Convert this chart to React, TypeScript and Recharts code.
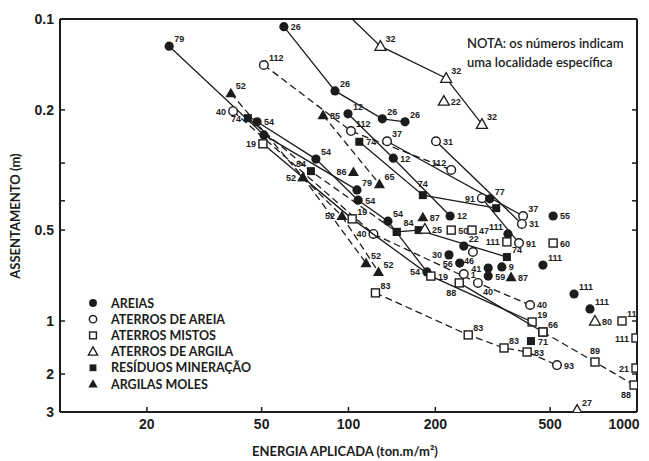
import React from "react";
import { ScatterChart, Scatter, XAxis, YAxis, Legend } from "recharts";

type Pt = [number, number, string | null];

const energyTicks = [20, 50, 100, 200, 500, 1000];
const settlementTicks = [0.1, 0.2, 0.3, 0.4, 0.5, 1, 2, 3];
const settlementTickLabels = ["0.1", "0.2", "", "", "0.5", "1", "2", "3"];

const categories = [
  "AREIAS",
  "ATERROS DE AREIA",
  "ATERROS MISTOS",
  "ATERROS DE ARGILA",
  "RESÍDUOS MINERAÇÃO",
  "ARGILAS MOLES",
];
const kinds = ["areia", "aterroAreia", "misto", "argila", "residuo", "argilaMole"];

// series ligadas por linha: [energia, assentamento, localidade]
const areias26: Pt[] = [[59.7, 0.106, "26"], [89.8, 0.173, "26"], [131, 0.214, "26"], [157, 0.219, "26"]];
const areias79: Pt[] = [[23.9, 0.123, "79"], [50.9, 0.242, ""], [107, 0.368, "79"]];
const areias54: Pt[] = [[48.2, 0.219, "54"], [77.1, 0.291, "54"], [108, 0.398, "54"], [137, 0.467, "54"], [187, 0.688, "54"]];
const areias12: Pt[] = [[99.6, 0.206, "12"], [143, 0.289, "12"], [225, 0.449, "12"]];
const aterroAreia112: Pt[] = [[50.9, 0.142, "112"], [102, 0.235, "112"], [227, 0.316, "112"]];
const aterroAreia40: Pt[] = [[39.8, 0.202, "40"], [122, 0.515, "40"], [281, 0.748, "40"], [426, 0.885, "40"]];
const aterroAreia37: Pt[] = [[136, 0.254, "37"], [403, 0.449, "37"]];
const aterroAreia31: Pt[] = [[201, 0.254, "31"], [399, 0.477, "31"]];
const aterroAreia91: Pt[] = [[290, 0.392, "91"], [390, 0.552, "91"]];
const mistos19: Pt[] = [[50.5, 0.259, "19"], [103, 0.459, "19"], [193, 0.71, "19"], [433, 1.013, "19"]];
const mistos88: Pt[] = [[242, 0.748, "88"], [472, 1.155, ""]];
const mistos66: Pt[] = [[472, 1.155, "66"], [715, 1.71, "89"], [977, 2.25, "88"]];
const mistos83: Pt[] = [[124, 0.807, "83"], [260, 1.2, "83"], [346, 1.423, "83"], [416, 1.5, "83"], [528, 1.78, null]];
const argila32: Pt[] = [[103, 0.1, null], [129, 0.123, "32"], [218, 0.157, "32"], [290, 0.223, "32"]];
const residuos74: Pt[] = [[109, 0.255, "74"], [181, 0.383, "74"], [325, 0.423, ""]];
const residuos74b: Pt[] = [[44.8, 0.213, "74"], [74.1, 0.319, "84"], [147, 0.507, ""]];
const residuos84: Pt[] = [[147, 0.507, ""], [175, 0.5, "84"], [354, 0.614, "74"]];
const argilaMole85: Pt[] = [[81.6, 0.208, "85"], [128, 0.352, "65"]];
const argilaMole52a: Pt[] = [[39.1, 0.176, "52"], [69.5, 0.334, "52"], [115, 0.643, "52"]];
const argilaMole52b: Pt[] = [[69.5, 0.334, ""], [94.9, 0.449, "52"], [127, 0.688, "52"]];

// pontos isolados
const areiasAvulsas: Pt[] = [
  [309, 0.394, "77"], [512, 0.449, "55"], [357, 0.515, "111"], [251, 0.565, "22"],
  [223, 0.604, "30"], [243, 0.643, "56"], [472, 0.653, "111"], [305, 0.668, "41"],
  [340, 0.662, "9"], [305, 0.71, "59"], [605, 0.814, "111"], [687, 0.912, "111"],
];
const aterroAreiaAvulsos: Pt[] = [[251, 0.699, "1"], [270, 0.591, "46"], [528, 1.78, "93"]];
const mistosAvulsos: Pt[] = [
  [227, 0.5, "50"], [268, 0.5, "47"], [354, 0.547, "111"], [512, 0.552, "60"],
  [887, 1.0, "111"], [992, 1.249, "111"], [992, 1.85, "21"],
];
const argilaAvulsos: Pt[] = [[214, 0.187, "22"], [184, 0.496, "25"], [715, 1.0, "80"], [620, 2.94, "27"]];
const residuosAvulsos: Pt[] = [[429, 1.3, "71"]];
const argilaMoleAvulsos: Pt[] = [[104, 0.321, "86"], [181, 0.453, "87"], [366, 0.715, "87"]];

// the vertical axis of the original is log up to 1, then squeezed
const LOG2 = Math.log10(2);
const LOG15 = Math.log10(1.5);
function toAxis(v: number) {
  if (v <= 1) return Math.log10(v);
  if (v <= 2) return (Math.log10(v) / LOG2) * (53 / 302);
  return 53 / 302 + (Math.log10(v / 2) / LOG15) * (38 / 302);
}

const series = [
  { data: areias26, kind: "areia", dash: false, place: ["r", "tr", "tr", "tr"] },
  { data: areias79, kind: "areia", dash: false, place: ["tr", "tr", "tr"] },
  { data: areias54, kind: "areia", dash: false, place: ["r", "tr", "r", "tr", "l"] },
  { data: areias12, kind: "areia", dash: false, place: ["tr", "r", "r"] },
  { data: aterroAreia112, kind: "aterroAreia", dash: true, place: ["tr", "tr", "tl"] },
  { data: aterroAreia40, kind: "aterroAreia", dash: true, place: ["l", "l", "br", "r"] },
  { data: aterroAreia37, kind: "aterroAreia", dash: false, place: ["tr", "tr"] },
  { data: aterroAreia31, kind: "aterroAreia", dash: false, place: ["r", "r"] },
  { data: aterroAreia91, kind: "aterroAreia", dash: false, place: ["l", "r"] },
  { data: mistos19, kind: "misto", dash: false, place: ["l", "tr", "r", "tr"] },
  { data: mistos88, kind: "misto", dash: false, place: ["bl", "tr"] },
  { data: mistos66, kind: "misto", dash: true, place: ["tr", "t", "bl"] },
  { data: mistos83, kind: "misto", dash: true, place: ["tr", "tr", "tr", "r", "r"] },
  { data: argila32, kind: "argila", dash: false, place: ["tr", "tr", "tr", "tr"] },
  { data: residuos74, kind: "residuo", dash: false, place: ["r", "t", "tr"] },
  { data: residuos74b, kind: "residuo", dash: true, place: ["l", "tl", "tr"] },
  { data: residuos84, kind: "residuo", dash: false, place: ["tr", "tl", "tr"] },
  { data: argilaMole85, kind: "argilaMole", dash: true, place: ["r", "tr"] },
  { data: argilaMole52a, kind: "argilaMole", dash: true, place: ["tr", "l", "tr"] },
  { data: argilaMole52b, kind: "argilaMole", dash: true, place: ["tr", "l", "tr"] },
  { data: areiasAvulsas, kind: "areia", dash: null, place: ["tr", "r", "tl", "tr", "l", "l", "tr", "l", "r", "r", "tr", "tr"] },
  { data: aterroAreiaAvulsos, kind: "aterroAreia", dash: null, place: ["r", "b", "r"] },
  { data: mistosAvulsos, kind: "misto", dash: null, place: ["r", "r", "l", "r", "tr", "l", "l"] },
  { data: argilaAvulsos, kind: "argila", dash: null, place: ["r", "r", "r", "tr"] },
  { data: residuosAvulsos, kind: "residuo", dash: null, place: ["r"] },
  { data: argilaMoleAvulsos, kind: "argilaMole", dash: null, place: ["l", "r", "r"] },
];

const INK = "#1c1c1c";

const labelOffset: Record<string, [number, number, string]> = {
  tr: [5, -4, "start"],
  r: [7, 3.5, "start"],
  l: [-7, 3.5, "end"],
  tl: [-5, -4, "end"],
  t: [0, -8, "middle"],
  b: [-4, 12, "middle"],
  br: [5, 12, "start"],
  bl: [-3, 13, "end"],
};

function Marker({ kind, cx, cy, small }: { kind: string; cx: number; cy: number; small?: boolean }) {
  const k = small ? 0.85 : 1;
  const r = 4.3 * k;
  const h = 4 * k;
  const t = 5.5 * k;
  const tri = `M${cx},${cy - t} L${cx + t},${cy + t * 0.75} L${cx - t},${cy + t * 0.75} Z`;
  switch (kind) {
    case "areia":
      return <circle cx={cx} cy={cy} r={r + 0.3} fill={INK} />;
    case "aterroAreia":
      return <circle cx={cx} cy={cy} r={r} fill="#fff" stroke={INK} strokeWidth={1.4} />;
    case "misto":
      return <rect x={cx - h} y={cy - h} width={h * 2} height={h * 2} fill="#fff" stroke={INK} strokeWidth={1.4} />;
    case "argila":
      return <path d={tri} fill="#fff" stroke={INK} strokeWidth={1.3} />;
    case "residuo":
      return <rect x={cx - h} y={cy - h} width={h * 2} height={h * 2} fill={INK} />;
    default:
      return <path d={tri} fill={INK} />;
  }
}

function renderPoint(kind: string) {
  return (props: any) => {
    const { cx, cy, payload } = props;
    if (payload.label === null || cx == null) return <g />;
    const [dx, dy, anchor] = labelOffset[payload.place] || labelOffset.tr;
    return (
      <g>
        <Marker kind={kind} cx={cx} cy={cy} />
        {payload.label && (
          <text
            x={cx + dx}
            y={cy + dy}
            textAnchor={anchor as any}
            fontSize={9}
            fontWeight={700}
            fontFamily="Liberation Sans, Arial, sans-serif"
            fill={INK}
          >
            {payload.label}
          </text>
        )}
      </g>
    );
  };
}

const renderLegend = () => (
  <svg width={190} height={100}>
    {categories.map((c, i) => (
      <g key={c}>
        <Marker kind={kinds[i]} cx={9} cy={8 + i * 16.2} small />
        <text x={27} y={12.5 + i * 16.2} fontSize={12.5} fontWeight={700} fontFamily="Lato, sans-serif" fill={INK}>
          {c}
        </text>
      </g>
    ))}
  </svg>
);

const tickFont = { fill: INK, fontSize: 14, fontWeight: 700, fontFamily: "Liberation Sans, Arial, sans-serif" };
const axisLine = { stroke: INK, strokeWidth: 2 };
const tickLine = { stroke: INK, strokeWidth: 1.5 };
const yDomain = [toAxis(0.1), toAxis(3)];
const yTicks = settlementTicks.map(toAxis);

const EnergyTick = (p: any) => {
  const last = p.payload.value === 1000;
  return (
    <text x={last ? p.x - 9 : p.x} y={p.y} dy="0.71em" textAnchor="middle" {...tickFont}>
      {p.payload.value}
    </text>
  );
};

export default function App() {
  return (
    <div style={{ position: "absolute", left: 0, top: 0, width: 649, height: 461, background: "#fff" }}>
      <ScatterChart width={649} height={461} margin={{ top: 18, right: 11, bottom: 0, left: 0 }}>
        <XAxis
          xAxisId="b"
          dataKey="x"
          type="number"
          scale="log"
          domain={[10, 1000]}
          allowDataOverflow
          ticks={energyTicks}
          height={49}
          axisLine={axisLine}
          tickLine={tickLine}
          tickSize={-5}
          tickMargin={12}
          tick={EnergyTick}
          label={{
            content: () => (
              <text x={345} y={456} textAnchor="middle" fontSize={13} fontWeight={700} fontFamily="Lato, sans-serif" fill={INK}>
                ENERGIA APLICADA (ton.m/m²)
              </text>
            ),
          }}
        />
        <XAxis
          xAxisId="t"
          orientation="top"
          type="number"
          scale="log"
          domain={[10, 1000]}
          allowDataOverflow
          ticks={energyTicks.slice(0, 5)}
          height={1}
          axisLine={axisLine}
          tickLine={tickLine}
          tickSize={-5}
          tickFormatter={() => ""}
        />
        <YAxis
          yAxisId="l"
          dataKey="y"
          type="number"
          domain={yDomain}
          allowDataOverflow
          reversed
          ticks={yTicks}
          width={60}
          axisLine={axisLine}
          tickLine={tickLine}
          tickSize={-5}
          tickMargin={11}
          tick={tickFont}
          tickFormatter={(_v: number, i: number) => settlementTickLabels[i]}
          label={{
            content: () => (
              <text
                x={17}
                y={216}
                transform="rotate(-90 17 216)"
                textAnchor="middle"
                dominantBaseline="middle"
                fontSize={13}
                fontWeight={700}
                fontFamily="Lato, sans-serif"
                fill={INK}
              >
                ASSENTAMENTO (m)
              </text>
            ),
          }}
        />
        <YAxis
          yAxisId="r"
          orientation="right"
          type="number"
          domain={yDomain}
          allowDataOverflow
          reversed
          ticks={yTicks}
          width={1}
          axisLine={axisLine}
          tickLine={tickLine}
          tickSize={-5}
          tickFormatter={() => ""}
        />
        <Legend
          layout="vertical"
          align="center"
          verticalAlign="middle"
          content={renderLegend}
          wrapperStyle={{ left: 84, top: 295, width: 190 }}
        />
        {series.map((s, si) => (
          <Scatter
            key={si}
            xAxisId="b"
            yAxisId="l"
            data={s.data.map(([x, y, label], i) => ({ x, y: toAxis(y), label, place: s.place[i] }))}
            shape={renderPoint(s.kind)}
            line={
              s.dash === null
                ? false
                : { stroke: INK, strokeWidth: 1.3, strokeDasharray: s.dash ? "7 4" : undefined }
            }
            lineJointType="linear"
            isAnimationActive={false}
          />
        ))}
      </ScatterChart>
      <div
        style={{
          position: "absolute",
          left: 467,
          top: 34,
          fontFamily: "Lato, sans-serif",
          fontSize: 13,
          lineHeight: "18.5px",
          color: INK,
          fontWeight: 600,
        }}
      >
        NOTA: os números indicam
        <br />
        uma localidade específica
      </div>
    </div>
  );
}
